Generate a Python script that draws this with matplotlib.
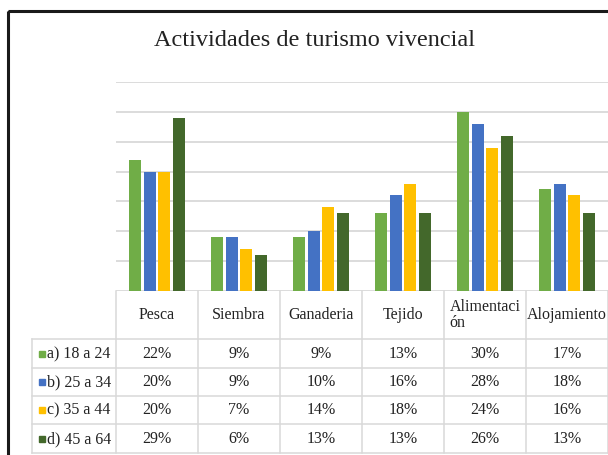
import matplotlib
matplotlib.use('Agg')
import matplotlib.pyplot as plt
from matplotlib.transforms import blended_transform_factory
from matplotlib.patches import Rectangle
import numpy as np

title = 'Actividades de turismo vivencial'
categories = ['Pesca', 'Siembra', 'Ganaderia', 'Tejido', 'Alimentaci\nón', 'Alojamiento']
series_labels = ['a) 18 a 24', 'b) 25 a 34', 'c) 35 a 44', 'd) 45 a 64']
s_a = [22, 9, 9, 13, 30, 17]
s_b = [20, 9, 10, 16, 28, 18]
s_c = [20, 7, 14, 18, 24, 16]
s_d = [29, 6, 13, 13, 26, 13]
series = [s_a, s_b, s_c, s_d]
colors = ['#70AD47', '#4472C4', '#FFC000', '#43682B']

plt.rcParams['font.family'] = ['Liberation Serif', 'DejaVu Serif']

W, H = 608, 455
fig = plt.figure(figsize=(W / 100, H / 100), dpi=100)

over = fig.add_axes([0, 0, 1, 1])
over.set_xlim(0, W)
over.set_ylim(H, 0)
over.axis('off')

# chart frame (right/bottom edges lie outside the picture)
over.add_patch(Rectangle((7.5, 11), 800, 600, fill=False, ec='#1a1a1a', lw=2.2))

# plot area
px_left, px_right, px_top, px_base = 116, 608, 82, 291
ax = fig.add_axes([px_left / W, (H - px_base) / H, (px_right - px_left) / W, (px_base - px_top) / H])
ax.set_facecolor('none')
x = np.arange(len(categories))
step, bw = 0.177, 0.146
for i, (vals, col) in enumerate(zip(series, colors)):
    ax.bar(x + (i - 1.5) * step, vals, width=bw, color=col, zorder=3)
ax.set_xlim(-0.5, len(categories) - 0.5)
ax.set_ylim(0, 35)
ax.set_yticks(np.arange(0, 36, 5))
ax.yaxis.grid(True, color='#d9d9d9', lw=1.3, zorder=0)
ax.tick_params(left=False, bottom=False, labelleft=False, labelbottom=False)
for sp in ax.spines.values():
    sp.set_visible(False)

over.text(314, 40, title, ha='center', va='center', fontsize=17.5, color='#222222')

# data table
line_col = '#d9d9d9'
trans = blended_transform_factory(ax.transData, over.transData)
row_lines = [339, 368, 396, 424, 453]
for k in range(len(categories) + 1):
    over.plot([k - 0.5, k - 0.5], [px_base, row_lines[-1]], color=line_col, lw=1.1,
              transform=trans, clip_on=False)
for yl in row_lines:
    over.plot([32, W], [yl, yl], color=line_col, lw=1.1)
over.plot([32, 32], [row_lines[0], row_lines[-1]], color=line_col, lw=1.1)

fs = 11.5
for k, cat in enumerate(categories):
    over.text(k, 315, cat, ha='center', va='center', ma='left', fontsize=fs,
              color='#222222', transform=trans, linespacing=1.05)

for r, (lab, vals, col) in enumerate(zip(series_labels, series, colors)):
    yc = (row_lines[r] + row_lines[r + 1]) / 2
    over.add_patch(Rectangle((39, yc - 3), 6, 6, color=col))
    over.text(47, yc + 0.5, lab, ha='left', va='center', fontsize=fs, color='#222222')
    for k, v in enumerate(vals):
        over.text(k, yc + 0.5, f'{v}%', ha='center', va='center', fontsize=fs,
                  color='#222222', transform=trans)

fig.savefig('out.png', dpi=100)
